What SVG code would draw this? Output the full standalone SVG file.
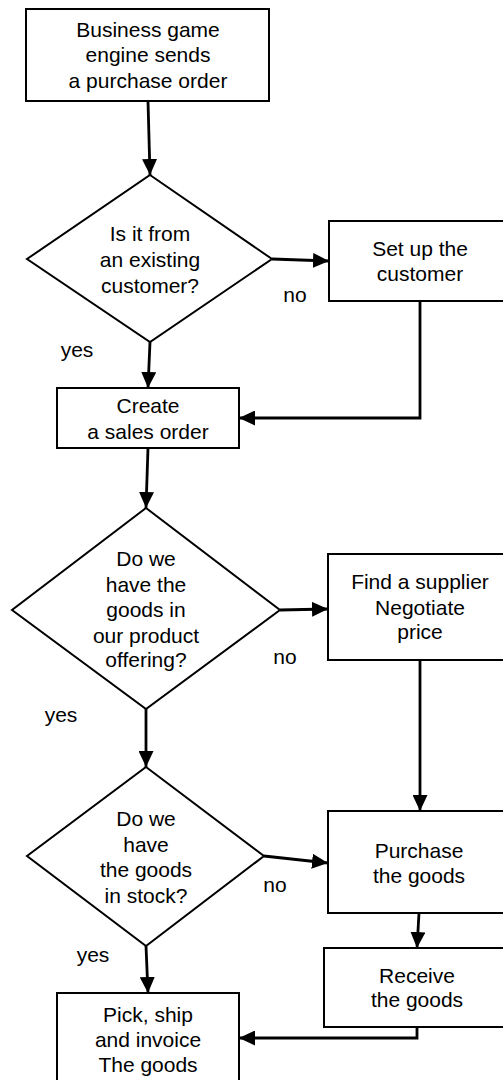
<svg xmlns="http://www.w3.org/2000/svg" width="503" height="1080" viewBox="0 0 503 1080">
<defs>
<style>
.box{fill:#fff;stroke:#000;stroke-width:2}
.t{font-family:"Liberation Sans",Arial,sans-serif;font-size:21px;fill:#000;text-anchor:middle}
.c{fill:none;stroke:#000;stroke-width:2.8}
</style>
<marker id="ah" viewBox="0 0 16 15" refX="16" refY="7.5" markerWidth="16" markerHeight="15" markerUnits="userSpaceOnUse" orient="auto">
<path d="M0,0 L16,7.5 L0,15 z" fill="#000"/>
</marker>
</defs>
<rect width="503" height="1080" fill="#fff"/>
<g id="connectors">
<path class="c" d="M148,101 L150,175" marker-end="url(#ah)"/>
<path class="c" d="M272,259 L329,261" marker-end="url(#ah)"/>
<path class="c" d="M420,301 L420,418 L239,418" marker-end="url(#ah)"/>
<path class="c" d="M150,342 L148,388" marker-end="url(#ah)"/>
<path class="c" d="M148,448 L146,508" marker-end="url(#ah)"/>
<path class="c" d="M280,610 L328,609" marker-end="url(#ah)"/>
<path class="c" d="M420,660 L420,811" marker-end="url(#ah)"/>
<path class="c" d="M146,709 L146,767" marker-end="url(#ah)"/>
<path class="c" d="M264,856 L328,863" marker-end="url(#ah)"/>
<path class="c" d="M419,913 L417,948" marker-end="url(#ah)"/>
<path class="c" d="M146,946 L148,993" marker-end="url(#ah)"/>
<path class="c" d="M417,1027 L417,1038 L239,1038" marker-end="url(#ah)"/>
<text class="t" x="295" y="302">no</text>
<text class="t" x="77" y="357">yes</text>
<text class="t" x="285" y="664">no</text>
<text class="t" x="61" y="722">yes</text>
<text class="t" x="275" y="892">no</text>
<text class="t" x="93" y="962">yes</text>
</g>
<g id="start">
<rect class="box" x="26" y="9" width="243" height="92"/>
<text class="t" x="148" y="37">Business game</text>
<text class="t" x="148" y="62">engine sends</text>
<text class="t" x="148" y="88">a purchase order</text>
</g>
<g id="existing">
<polygon class="box" points="150,175 272,259 150,342 27,259"/>
<text class="t" x="150" y="241">Is it from</text>
<text class="t" x="150" y="267">an existing</text>
<text class="t" x="150" y="293">customer?</text>
</g>
<g id="setup">
<rect class="box" x="329" y="221" width="184" height="80"/>
<text class="t" x="420" y="256">Set up the</text>
<text class="t" x="420" y="281">customer</text>
</g>
<g id="salesorder">
<rect class="box" x="57" y="388" width="182" height="60"/>
<text class="t" x="148" y="413">Create</text>
<text class="t" x="148" y="439">a sales order</text>
</g>
<g id="offering">
<polygon class="box" points="146,508 280,610 146,709 12,610"/>
<text class="t" x="146" y="566">Do we</text>
<text class="t" x="146" y="592">have the</text>
<text class="t" x="146" y="617">goods in</text>
<text class="t" x="146" y="643">our product</text>
<text class="t" x="146" y="667">offering?</text>
</g>
<g id="supplier">
<rect class="box" x="328" y="554" width="185" height="106"/>
<text class="t" x="420" y="589">Find a supplier</text>
<text class="t" x="420" y="615">Negotiate</text>
<text class="t" x="420" y="639">price</text>
</g>
<g id="stock">
<polygon class="box" points="146,767 264,856 146,946 27,856"/>
<text class="t" x="146" y="826">Do we</text>
<text class="t" x="146" y="852">have</text>
<text class="t" x="146" y="877">the goods</text>
<text class="t" x="146" y="903">in stock?</text>
</g>
<g id="purchase">
<rect class="box" x="328" y="811" width="185" height="102"/>
<text class="t" x="419" y="858">Purchase</text>
<text class="t" x="419" y="883">the goods</text>
</g>
<g id="receive">
<rect class="box" x="324" y="948" width="189" height="79"/>
<text class="t" x="417" y="983">Receive</text>
<text class="t" x="417" y="1007">the goods</text>
</g>
<g id="pick">
<rect class="box" x="57" y="993" width="182" height="100"/>
<text class="t" x="148" y="1022">Pick, ship</text>
<text class="t" x="148" y="1047">and invoice</text>
<text class="t" x="148" y="1072">The goods</text>
</g>
</svg>
